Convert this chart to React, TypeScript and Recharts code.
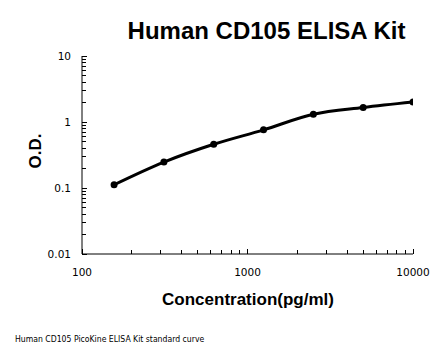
import { LineChart, Line, XAxis, YAxis } from 'recharts';

const concentrations = [156.25, 312.5, 625, 1250, 2500, 5000, 10000];
const odValues = [0.112, 0.247, 0.46, 0.76, 1.31, 1.66, 2.01];

const xMajorTicks = [100, 1000, 10000];
const xMinorTicks = [200, 300, 400, 500, 600, 700, 800, 900, 2000, 3000, 4000, 5000, 6000, 7000, 8000, 9000];
const yMajorTicks = [0.01, 0.1, 1, 10];
const yMinorTicks = [0.02, 0.03, 0.04, 0.05, 0.06, 0.07, 0.08, 0.09, 0.2, 0.3, 0.4, 0.5, 0.6, 0.7, 0.8, 0.9, 2, 3, 4, 5, 6, 7, 8, 9];

const data = concentrations.map((c, i) => ({ conc: c, od: odValues[i] }));

const tickFont = '"DejaVu Sans", Verdana, sans-serif';
const boldFont = '"Liberation Sans", Arial, sans-serif';

function XTick(props: any) {
  const { x, y, payload } = props;
  const major = xMajorTicks.includes(payload.value);
  return (
    <g>
      <line x1={x} y1={y} x2={x} y2={y - (major ? 5 : 4)} stroke="#000" strokeWidth={1} shapeRendering="crispEdges" />
      {major && (
        <text x={x} y={y + 22} textAnchor="middle" fontSize={10.5} fontFamily={tickFont} fill="#000">
          {payload.value}
        </text>
      )}
    </g>
  );
}

function YTick(props: any) {
  const { x, y, payload } = props;
  const major = yMajorTicks.includes(payload.value);
  return (
    <g>
      <line x1={x} y1={y} x2={x + (major ? 5 : 4)} y2={y} stroke="#000" strokeWidth={1} shapeRendering="crispEdges" />
      {major && (
        <text x={x - 11} y={y + 4} textAnchor="end" fontSize={10.5} fontFamily={tickFont} fill="#000">
          {payload.value}
        </text>
      )}
    </g>
  );
}

export default function App() {
  return (
    <div style={{ position: 'absolute', left: 0, top: 0, width: 446, height: 356, background: '#fff' }}>
      <div
        style={{
          position: 'absolute',
          left: 0,
          width: 446,
          top: 17,
          textAlign: 'center',
          paddingLeft: 87,
          boxSizing: 'border-box',
          fontFamily: boldFont,
          fontWeight: 'bold',
          fontSize: 24,
          lineHeight: '28px',
          whiteSpace: 'nowrap',
        }}
      >
        Human CD105 ELISA Kit
      </div>
      <LineChart width={446} height={356} data={data} margin={{ top: 56, right: 33, bottom: 72, left: 0 }}>
        <XAxis
          dataKey="conc"
          type="number"
          scale="log"
          domain={[100, 10000]}
          ticks={[...xMajorTicks, ...xMinorTicks]}
          interval={0}
          height={30}
          tickSize={0}
          tickMargin={0}
          tick={<XTick />}
          axisLine={{ stroke: '#000', strokeWidth: 1 }}
          allowDataOverflow
        />
        <YAxis
          dataKey="od"
          type="number"
          scale="log"
          domain={[0.01, 10]}
          ticks={[...yMajorTicks, ...yMinorTicks]}
          interval={0}
          width={82}
          tickSize={0}
          tickMargin={0}
          tick={<YTick />}
          axisLine={{ stroke: '#000', strokeWidth: 1 }}
          allowDataOverflow
        />
        <Line
          dataKey="od"
          type="monotone"
          stroke="#000"
          strokeWidth={3}
          dot={{ r: 3.5, fill: '#000', stroke: '#000', strokeWidth: 0 }}
          isAnimationActive={false}
        />
      </LineChart>
      <div
        style={{
          position: 'absolute',
          left: 36,
          top: 151,
          transform: 'translate(-50%, -50%) rotate(-90deg)',
          fontFamily: boldFont,
          fontWeight: 'bold',
          fontSize: 17,
          whiteSpace: 'nowrap',
        }}
      >
        O.D.
      </div>
      <div
        style={{
          position: 'absolute',
          left: 0,
          width: 446,
          top: 290,
          textAlign: 'center',
          paddingLeft: 50,
          boxSizing: 'border-box',
          fontFamily: boldFont,
          fontWeight: 'bold',
          fontSize: 17,
          lineHeight: '20px',
          whiteSpace: 'nowrap',
        }}
      >
        Concentration(pg/ml)
      </div>
      <div
        style={{
          position: 'absolute',
          left: 15,
          top: 334,
          fontFamily: '"DejaVu Sans Condensed", "DejaVu Sans", sans-serif',
          fontSize: 8.6,
          whiteSpace: 'nowrap',
        }}
      >
        Human CD105 PicoKine ELISA Kit standard curve
      </div>
    </div>
  );
}
